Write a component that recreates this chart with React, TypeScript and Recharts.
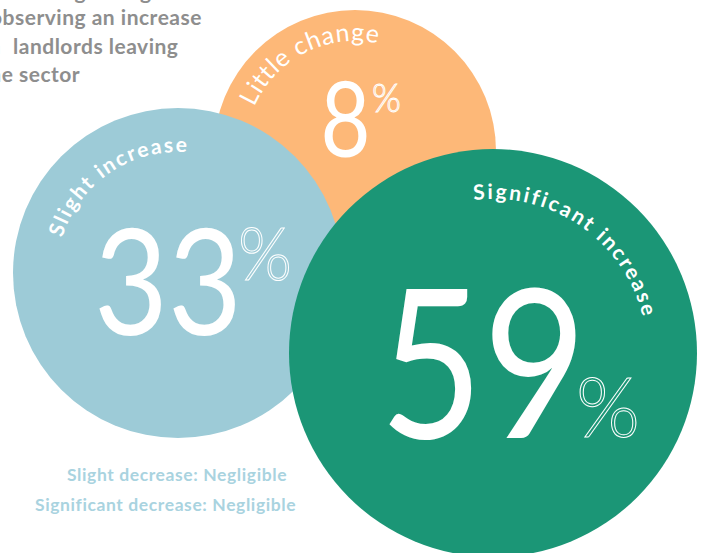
import { ScatterChart, Scatter, XAxis, YAxis, ZAxis } from "recharts";

const categories = ["Little change", "Slight increase", "Significant increase"];
const shares = [8, 33, 59];
// bubble centre (x, y) and radius, in chart units
const bubbleX = [355, 178, 493];
const bubbleY = [151, 273, 353];
const bubbleR = [141, 165, 204];

// heading: each line split into a clipped lead word and the visible rest
const headingLead = ["", "", "in", ""];
const headingRest = ["Percentage of agents", "observing an increase", "landlords leaving", "the sector"];
const notes = ["Slight decrease: Negligible", "Significant decrease: Negligible"];

const WIDTH = 702;
const HEIGHT = 553;
const FONT = "Lato, 'Open Sans', sans-serif";

const COLORS = ["#FDB878", "#9DCBD7", "#1B9676"];

// heading line placement
const HEAD_X = [-12, -10, 13, -19];
const HEAD_Y = [-1, 25, 53.5, 82];

// typography per bubble (offsets relative to the bubble centre)
const LOOK = [
  { labelR: 110, labelMid: -117, labelSize: 25, labelWeight: 400, spacing: 0.8, num: { dx: -9.5, dy: 6, size: 104, len: 50 }, pct: { dx: 17, dy: -39, size: 40, len: 29 } },
  { labelR: 121, labelMid: -124, labelSize: 21, labelWeight: 700, spacing: 2, num: { dx: -10, dy: 62, size: 148, len: 148 }, pct: { dx: 60, dy: 7, size: 72, len: 54 } },
  { labelR: 154, labelMid: -55, labelSize: 21, labelWeight: 700, spacing: 2.3, num: { dx: -10, dy: 85, size: 208, len: 207 }, pct: { dx: 83, dy: 84, size: 83, len: 64 } },
];

const data = categories.map((name, i) => ({
  i,
  name,
  share: shares[i],
  x: bubbleX[i],
  y: bubbleY[i],
  r: bubbleR[i],
}));

function Bubble(props: any) {
  const { cx, cy, payload } = props;
  const r = props.size ?? payload.r;
  const look = LOOK[payload.i];
  const R = look.labelR;
  const a0 = ((look.labelMid - 85) * Math.PI) / 180;
  const a1 = ((look.labelMid + 85) * Math.PI) / 180;
  const id = `arc-${payload.i}`;
  const d = `M ${cx + R * Math.cos(a0)} ${cy + R * Math.sin(a0)} A ${R} ${R} 0 0 1 ${cx + R * Math.cos(a1)} ${cy + R * Math.sin(a1)}`;

  return (
    <g>
      <circle cx={cx} cy={cy} r={r} fill={COLORS[payload.i]} />
      <path id={id} d={d} fill="none" stroke="none" />
      <text
        fill="#fff"
        fontFamily={FONT}
        fontSize={look.labelSize}
        fontWeight={look.labelWeight}
        letterSpacing={look.spacing}
      >
        <textPath href={`#${id}`} startOffset="50%" textAnchor="middle">
          {payload.name}
        </textPath>
      </text>
      <text
        x={cx + look.num.dx}
        y={cy + look.num.dy}
        textAnchor="middle"
        fill="#fff"
        fontFamily={FONT}
        fontSize={look.num.size}
        fontWeight={400}
        textLength={look.num.len}
        lengthAdjust="spacingAndGlyphs"
      >
        {payload.share}
      </text>
      <text
        x={cx + look.pct.dx}
        y={cy + look.pct.dy}
        fill="none"
        stroke="#fff"
        strokeWidth={1}
        fontFamily={FONT}
        fontSize={look.pct.size}
        fontWeight={300}
        textLength={look.pct.len}
        lengthAdjust="spacingAndGlyphs"
      >
        %
      </text>
    </g>
  );
}

export default function App() {
  return (
    <div style={{ position: "absolute", left: 0, top: 0, width: WIDTH, height: HEIGHT, background: "#fff" }}>
      <ScatterChart width={WIDTH} height={HEIGHT} margin={{ top: 0, right: 0, bottom: 0, left: 0 }}>
        <XAxis type="number" dataKey="x" domain={[0, WIDTH]} allowDataOverflow hide />
        <YAxis type="number" dataKey="y" domain={[0, HEIGHT]} allowDataOverflow reversed hide />
        <ZAxis type="number" dataKey="r" domain={[0, 300]} range={[0, 300]} />
        <Scatter data={data} shape={Bubble} isAnimationActive={false} />
      </ScatterChart>
      <svg
        width={WIDTH}
        height={HEIGHT}
        style={{ position: "absolute", left: 0, top: 0, pointerEvents: "none" }}
      >
        {headingRest.map((line, i) => (
          <text
            key={line}
            y={HEAD_Y[i]}
            fill="#8E8E8E"
            fontFamily={FONT}
            fontSize={21}
            fontWeight={700}
            letterSpacing={0.5}
          >
            {headingLead[i] && <tspan x={HEAD_X[i] - 30}>{headingLead[i]}</tspan>}
            <tspan x={HEAD_X[i]}>{line}</tspan>
          </text>
        ))}
        <text x={67} y={481} fill="#A9D3DF" fontFamily={FONT} fontSize={17.5} fontWeight={700} letterSpacing={0.6}>
          {notes[0]}
        </text>
        <text x={35} y={511} fill="#A9D3DF" fontFamily={FONT} fontSize={17.5} fontWeight={700} letterSpacing={0.6}>
          {notes[1]}
        </text>
      </svg>
    </div>
  );
}
